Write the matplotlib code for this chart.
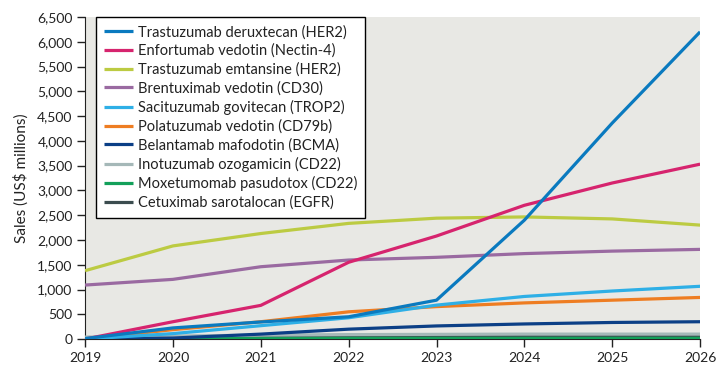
import matplotlib
matplotlib.use('Agg')
import matplotlib.pyplot as plt

# sales forecasts, US$ millions
years = [2019, 2020, 2021, 2022, 2023, 2024, 2025, 2026]

names = ['Trastuzumab deruxtecan (HER2)',
         'Enfortumab vedotin (Nectin-4)',
         'Trastuzumab emtansine (HER2)',
         'Brentuximab vedotin (CD30)',
         'Sacituzumab govitecan (TROP2)',
         'Polatuzumab vedotin (CD79b)',
         'Belantamab mafodotin (BCMA)',
         'Inotuzumab ozogamicin (CD22)',
         'Moxetumomab pasudotox (CD22)',
         'Cetuximab sarotalocan (EGFR)']

deruxtecan = [10, 225, 345, 450, 785, 2400, 4360, 6200]
enfortumab = [0, 350, 680, 1550, 2080, 2700, 3150, 3530]
emtansine = [1380, 1880, 2130, 2335, 2440, 2465, 2425, 2300]
brentuximab = [1090, 1205, 1460, 1595, 1650, 1725, 1775, 1810]
sacituzumab = [0, 110, 270, 430, 685, 860, 970, 1065]
polatuzumab = [0, 190, 350, 550, 655, 730, 785, 840]
belantamab = [0, 20, 100, 200, 265, 305, 335, 350]
inotuzumab = [40, 60, 80, 90, 95, 100, 100, 100]
moxetumomab = [10, 15, 15, 15, 15, 15, 15, 15]
cetuximab = [0, 10, 30, 40, 50, 55, 55, 55]

series = [deruxtecan, enfortumab, emtansine, brentuximab, sacituzumab,
          polatuzumab, belantamab, inotuzumab, moxetumomab, cetuximab]
colors = ['#0a7abf', '#d6246e', '#bccb42', '#9a6aa1', '#2eafe6',
          '#ee7d22', '#0b3f86', '#a5b8b8', '#13a05a', '#3b4c4f']

plt.rcParams['font.family'] = ['Lato', 'DejaVu Sans']

fig = plt.figure(figsize=(7.21, 3.78), dpi=100)
ax = fig.add_axes([0.118, 0.103, 0.853, 0.852])
ax.set_facecolor('#e8e8e4')

# draw small ones first so the big lines sit on top
for i in reversed(range(len(series))):
    ax.plot(years, series[i], color=colors[i], lw=2.3, label=names[i],
            solid_capstyle='butt', zorder=3 + (len(series) - i) * 0.1)

ax.set_xlim(2019, 2026)
ax.set_ylim(0, 6500)
ax.set_xticks(years)
ax.set_yticks(range(0, 6501, 500))
ax.set_yticklabels(['{:,}'.format(v) for v in range(0, 6501, 500)])
ax.tick_params(direction='out', length=6, width=1, labelsize=10, colors='#222222', pad=3)
for s in ['top', 'right']:
    ax.spines[s].set_visible(False)
ax.spines['left'].set_color('#222222')
ax.spines['bottom'].set_color('#222222')
ax.set_ylabel('Sales (US$ millions)', fontsize=11, color='#222222', labelpad=6)

handles, labels = ax.get_legend_handles_labels()
leg = ax.legend(handles[::-1], labels[::-1], loc='upper left',
                bbox_to_anchor=(0.018, 1.0), borderaxespad=0, fontsize=10.5,
                frameon=True, fancybox=False, handlelength=2.0,
                handletextpad=0.3, labelspacing=0.3, borderpad=0.55)
leg.get_frame().set_edgecolor('black')
leg.get_frame().set_linewidth(1)
leg.get_frame().set_alpha(1)
for t in leg.get_texts():
    t.set_color('#222222')

fig.savefig('out.png', dpi=100)
